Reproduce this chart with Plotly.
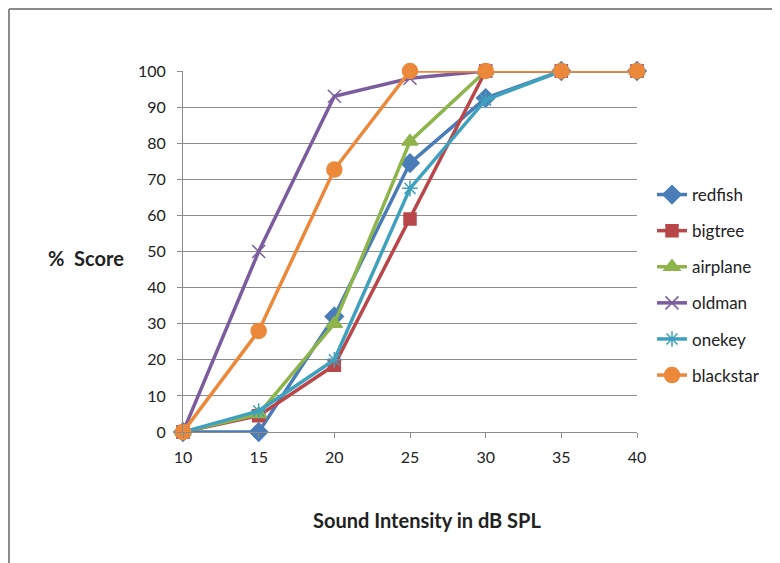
import plotly.graph_objects as go

x_db = [10, 15, 20, 25, 30, 35, 40]
redfish = [0, 0, 32, 74.5, 92.5, 100, 100]
bigtree = [0, 4.5, 18.5, 59, 100, 100, 100]
airplane = [0, 5, 30, 80.5, 100, 100, 100]
oldman = [0, 50, 93, 98, 100, 100, 100]
onekey = [0, 5.8, 20, 67.5, 92, 100, 100]
blackstar = [0, 28, 72.7, 100, 100, 100, 100]

series = [
    ("redfish", redfish, "#4A7DB8", "diamond", 14),
    ("bigtree", bigtree, "#B9474A", "square", 12),
    ("airplane", airplane, "#8EB44C", "triangle-up", 14),
    ("oldman", oldman, "#7B5C9E", "x-thin-open", 13),
    ("onekey", onekey, "#3FA1BD", "asterisk-open", 13),
    ("blackstar", blackstar, "#EB883A", "circle", 15),
]

# figure is placed at (8, 8) in the page; plot area in figure px
L, R, T, B = 175, 629, 63, 424
W, H = R - L, B - T


def px(fx):
    return (fx - L) / W


def py(fy):
    return (B - fy) / H


fig = go.Figure()
for name, vals, col, sym, sz in series:
    fig.add_trace(go.Scatter(
        x=x_db, y=vals, name=name, legendgroup=name, mode="lines+markers",
        line=dict(color=col, width=3.5),
        marker=dict(symbol=sym, size=sz, color=col, line=dict(color=col, width=1.5)),
        cliponaxis=False,
    ))

fig.update_layout(
    width=780, height=563,
    margin=dict(l=L, r=780 - R, t=T, b=563 - B),
    paper_bgcolor="white", plot_bgcolor="white",
    font=dict(family="Lato, Liberation Sans, sans-serif", size=16, color="#222"),
    showlegend=True,
    legend=dict(x=px(644), y=py(169), xanchor="left", yanchor="top",
                font=dict(size=17, color="#222"), tracegroupgap=11,
                bgcolor="rgba(0,0,0,0)"),
    xaxis=dict(range=[10, 40], tickvals=x_db, showgrid=False, zeroline=False,
               showline=True, linecolor="#8c8c8c", linewidth=1,
               ticks="outside", ticklen=5, tickcolor="#8c8c8c",
               ticklabelstandoff=6),
    yaxis=dict(range=[0, 100], dtick=10, showgrid=True, gridcolor="#8c8c8c", gridwidth=1,
               zeroline=False, showline=True, linecolor="#8c8c8c", linewidth=1,
               ticks="outside", ticklen=5, tickcolor="#8c8c8c",
               ticklabelstandoff=8),
    annotations=[
        dict(text="<b>%  Score</b>", xref="paper", yref="paper",
             x=px(78), y=py(250), showarrow=False,
             font=dict(size=20), xanchor="center", yanchor="middle"),
        dict(text="<b>Sound Intensity in dB SPL</b>", xref="paper", yref="paper",
             x=px(419), y=py(512), showarrow=False,
             font=dict(size=20), xanchor="center", yanchor="middle"),
    ],
    shapes=[
        dict(type="line", xref="paper", yref="paper", x0=px(1), x1=px(800),
             y0=py(1), y1=py(1), line=dict(color="#8a8a8a", width=2)),
        dict(type="line", xref="paper", yref="paper", x0=px(1), x1=px(1),
             y0=py(1), y1=py(600), line=dict(color="#8a8a8a", width=2)),
    ],
)

fig.write_html("out.html")
